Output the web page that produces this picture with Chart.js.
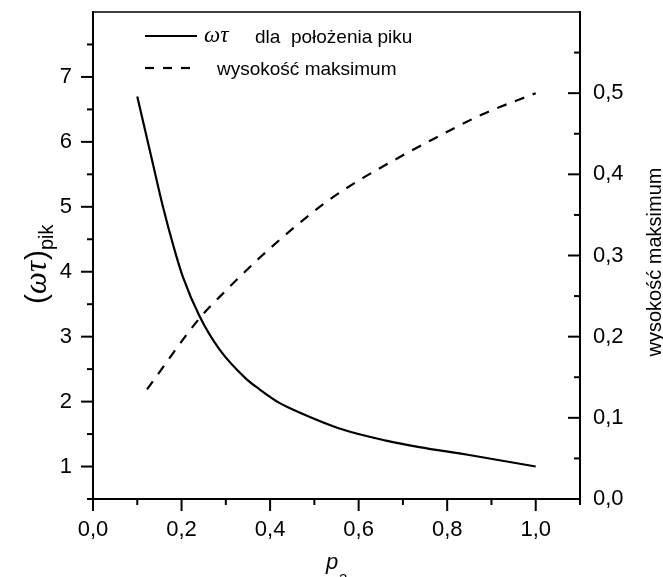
<!DOCTYPE html>
<html>
<head>
<meta charset="utf-8">
<script src="https://cdn.jsdelivr.net/npm/chart.js@4"></script>
<style>
  html, body { margin: 0; padding: 0; background: #fff; }
  #wrap { width: 663px; height: 577px; }
</style>
</head>
<body>
<div id="wrap"><canvas id="chart" width="663" height="577"></canvas></div>
<script>
// peak position (left axis)
const p2Peak = [0.10, 0.135, 0.158, 0.184, 0.203, 0.241, 0.286, 0.346, 0.376, 0.421, 0.451, 0.564, 0.662, 0.737, 0.843, 1.0];
const omegaTauPeak = [6.70, 5.67, 5.00, 4.34, 3.92, 3.31, 2.80, 2.35, 2.19, 1.98, 1.88, 1.57, 1.40, 1.30, 1.185, 1.0];

// maximum height (right axis)
const p2Height = [0.122, 0.241, 0.286, 0.380, 0.451, 0.527, 0.602, 0.692, 0.767, 0.880, 1.0];
const maxHeight = [0.135, 0.223, 0.249, 0.299, 0.333, 0.366, 0.393, 0.421, 0.443, 0.474, 0.500];

// axis ticks
const xMajor = [0, 0.2, 0.4, 0.6, 0.8, 1.0];
const xMinor = [0.1, 0.3, 0.5, 0.7, 0.9, 1.1];
const yMajor = [1, 2, 3, 4, 5, 6, 7];
const yMinor = [0.5, 1.5, 2.5, 3.5, 4.5, 5.5, 6.5, 7.5];
const y2Major = [0, 0.1, 0.2, 0.3, 0.4, 0.5];
const y2Minor = [0.05, 0.15, 0.25, 0.35, 0.45, 0.55];

const legendLabels = ['dla  położenia piku', 'wysokość maksimum'];
const SANS = '"Liberation Sans", Arial, sans-serif';
const SERIF = '"Liberation Serif", "Times New Roman", serif';

const comma = (v, d) => v.toFixed(d).replace('.', ',');
const near = (v, list) => list.some(t => Math.abs(t - v) < 1e-6);

// fixed box sizes so the plot area lands where the original one is
const fitTo = (w, h) => s => {
  if (w != null) s.width = w;
  if (h != null) s.height = h;
  s.paddingTop = 0; s.paddingBottom = 0; s.paddingLeft = 0; s.paddingRight = 0;
};

// ticks, frame, legend and axis titles
const decor = {
  id: 'decor',
  afterDraw(chart) {
    const { ctx, chartArea: a, scales } = chart;
    ctx.save();
    ctx.strokeStyle = '#000';
    ctx.fillStyle = '#000';
    ctx.lineWidth = 2;
    const line = (x1, y1, x2, y2) => { ctx.beginPath(); ctx.moveTo(x1, y1); ctx.lineTo(x2, y2); ctx.stroke(); };

    // top frame
    ctx.lineWidth = 1.5;
    line(a.left, a.top, a.right, a.top);
    ctx.lineWidth = 2;

    xMajor.forEach(v => { const p = scales.x.getPixelForValue(v); line(p, a.bottom, p, a.bottom + 12); });
    xMinor.forEach(v => { const p = scales.x.getPixelForValue(v); line(p, a.bottom, p, a.bottom + 6); });
    yMajor.forEach(v => { const p = scales.y.getPixelForValue(v); line(a.left, p, a.left - 12, p); });
    yMinor.forEach(v => { const p = scales.y.getPixelForValue(v); line(a.left, p, a.left - 6, p); });
    y2Major.forEach(v => { const p = scales.y2.getPixelForValue(v); line(a.right, p, a.right - 12, p); });
    y2Minor.forEach(v => { const p = scales.y2.getPixelForValue(v); line(a.right, p, a.right - 6, p); });

    // legend
    ctx.lineWidth = 2.2;
    line(145, 36, 197, 36);
    ctx.setLineDash([9, 9]);
    line(145, 68, 197, 68);
    ctx.setLineDash([]);
    ctx.textBaseline = 'alphabetic';
    ctx.textAlign = 'left';
    ctx.font = 'italic 23px ' + SERIF;
    ctx.fillText('ωτ', 204, 42);
    ctx.font = '19px ' + SANS;
    ctx.fillText(legendLabels[0], 255, 43);
    ctx.fillText(legendLabels[1], 217, 75);

    // left title (ωτ)pik
    ctx.save();
    ctx.translate(46, 304);
    ctx.rotate(-Math.PI / 2);
    let u = 0;
    ctx.font = '30px ' + SANS;
    ctx.fillText('(', u, 0); u += ctx.measureText('(').width;
    ctx.font = 'italic 31px ' + SERIF;
    ctx.fillText('ωτ', u, 0); u += ctx.measureText('ωτ').width + 1;
    ctx.font = '30px ' + SANS;
    ctx.fillText(')', u, 0); u += ctx.measureText(')').width;
    ctx.font = '20px ' + SANS;
    ctx.fillText('pik', u, 7);
    ctx.restore();

    // right title
    ctx.save();
    ctx.translate(661, 262);
    ctx.rotate(-Math.PI / 2);
    ctx.textAlign = 'center';
    ctx.font = '20px ' + SANS;
    ctx.fillText('wysokość maksimum', 0, 0);
    ctx.restore();

    // bottom title p2
    ctx.font = 'italic 22px ' + SANS;
    ctx.fillText('p', 326, 569);
    ctx.font = '15px ' + SANS;
    ctx.fillText('2', 339, 584);

    ctx.restore();
  }
};

new Chart(document.getElementById('chart'), {
  type: 'line',
  data: {
    datasets: [
      {
        data: p2Peak.map((x, i) => ({ x, y: omegaTauPeak[i] })),
        yAxisID: 'y',
        borderColor: '#000',
        borderWidth: 2.2,
        pointRadius: 0,
        cubicInterpolationMode: 'monotone',
        fill: false
      },
      {
        data: p2Height.map((x, i) => ({ x, y: maxHeight[i] })),
        yAxisID: 'y2',
        borderColor: '#000',
        borderWidth: 2.2,
        borderDash: [10, 9],
        pointRadius: 0,
        cubicInterpolationMode: 'monotone',
        fill: false
      }
    ]
  },
  options: {
    responsive: false,
    animation: false,
    layout: { padding: { top: 12, left: 0, right: 0, bottom: 0 } },
    plugins: { legend: { display: false }, tooltip: { enabled: false } },
    scales: {
      x: {
        type: 'linear', position: 'bottom', min: 0, max: 1.1,
        afterFit: fitTo(null, 78),
        grid: { display: false, drawTicks: false },
        border: { display: true, color: '#000', width: 2 },
        ticks: {
          stepSize: 0.1, autoSkip: false, maxRotation: 0, padding: 18,
          color: '#000', font: { family: SANS, size: 22 },
          callback: v => near(v, xMajor) ? comma(v, 1) : ''
        }
      },
      y: {
        type: 'linear', position: 'left', min: 0.5, max: 8,
        afterFit: fitTo(93, null),
        grid: { display: false, drawTicks: false },
        border: { display: true, color: '#000', width: 2 },
        ticks: {
          stepSize: 0.5, autoSkip: false, padding: 21,
          color: '#000', font: { family: SANS, size: 22 },
          callback: v => near(v, yMajor) ? String(v) : ''
        }
      },
      y2: {
        type: 'linear', position: 'right', min: 0, max: 0.6,
        afterFit: fitTo(83, null),
        grid: { display: false, drawTicks: false },
        border: { display: true, color: '#000', width: 2 },
        ticks: {
          stepSize: 0.05, autoSkip: false, padding: 13,
          color: '#000', font: { family: SANS, size: 22 },
          callback: v => near(v, y2Major) ? comma(v, 1) : ''
        }
      }
    }
  },
  plugins: [decor]
});
</script>
</body>
</html>
